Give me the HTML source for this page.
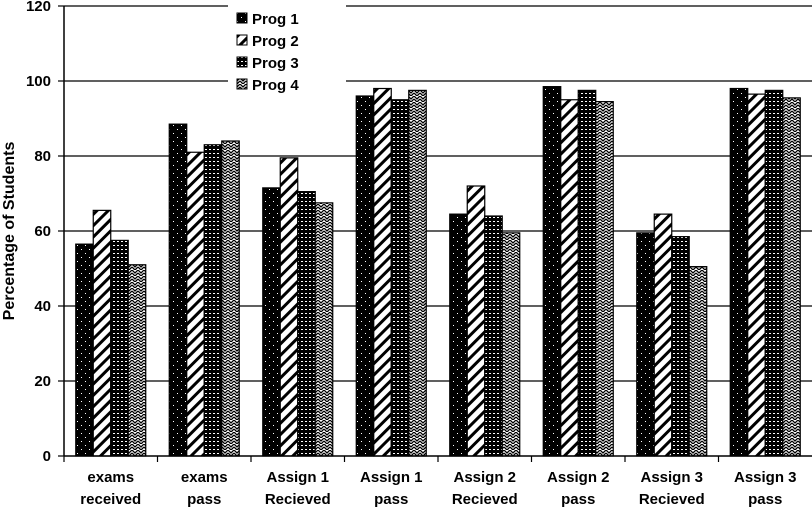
<!DOCTYPE html>
<html><head><meta charset="utf-8"><style>
body{margin:0;background:#fff}
svg{display:block;font-family:"Liberation Sans",Arial,sans-serif;font-weight:bold}
</style></head><body>
<svg id="chart" width="812" height="515" viewBox="0 0 812 515">
<defs>
<pattern id="p1" width="8" height="8" patternUnits="userSpaceOnUse"><rect width="8" height="8" fill="#000"/><rect x="1" y="1" width="1" height="1" fill="#fff"/><rect x="5" y="5" width="1" height="1" fill="#fff"/></pattern>
<pattern id="p2" width="8" height="8" patternUnits="userSpaceOnUse" patternTransform="rotate(45)"><rect width="8" height="8" fill="#fff"/><rect width="3" height="8" fill="#000"/></pattern>
<pattern id="p3" width="4" height="4" patternUnits="userSpaceOnUse"><rect width="4" height="4" fill="#000"/><rect x="1" y="1" width="2" height="1" fill="#fff"/></pattern>
<pattern id="p4" width="6" height="6" patternUnits="userSpaceOnUse"><rect width="6" height="6" fill="#fff"/><path d="M0 0L3 3L6 0M0 3L3 6L6 3" stroke="#000" stroke-width="1.3" fill="none"/></pattern>
</defs>
<g id="grid"></g><g id="bars"></g><g id="axes"></g>
<g>
<rect x="228" y="4" width="118" height="120" fill="#fff"/>
<g id="legend"></g>
</g>
<text transform="translate(14,231) rotate(-90)" text-anchor="middle" font-size="16">Percentage of Students</text>
</svg>
<script>
const categories=[["exams","received"],["exams","pass"],["Assign 1","Recieved"],["Assign 1","pass"],["Assign 2","Recieved"],["Assign 2","pass"],["Assign 3","Recieved"],["Assign 3","pass"]];
const seriesNames=["Prog 1","Prog 2","Prog 3","Prog 4"];
const prog1=[56.5,88.5,71.5,96,64.5,98.5,59.5,98];
const prog2=[65.5,81,79.5,98,72,95,64.5,96.5];
const prog3=[57.5,83,70.5,95,64,97.5,58.5,97.5];
const prog4=[51,84,67.5,97.5,59.5,94.5,50.5,95.5];
const yTicks=[0,20,40,60,80,100,120];
const series=[prog1,prog2,prog3,prog4];
const NS="http://www.w3.org/2000/svg";
const L=64,R=812,T=6,B=456,ymax=120;
const y=v=>B-(B-T)*v/ymax;
const cw=(R-L)/categories.length;
const bw=17.5;
const x=(i,s)=>L+cw*i+(cw-4*bw)/2+s*bw;
function mk(t,a,p){const e=document.createElementNS(NS,t);for(const k in a)e.setAttribute(k,a[k]);p.appendChild(e);return e;}
const grid=document.getElementById('grid'),bars=document.getElementById('bars'),axes=document.getElementById('axes'),leg=document.getElementById('legend');
yTicks.forEach(t=>{
 if(t>0){const g=mk('line',{x1:L,x2:R,y1:y(t),y2:y(t),stroke:'#000','stroke-width':1.2},grid);
 
 }
 mk('line',{x1:L-6,x2:L,y1:y(t),y2:y(t),stroke:'#000','stroke-width':1.2},axes);
 const tx=mk('text',{x:L-13,y:y(t)+5,'text-anchor':'end','font-size':15},axes);tx.textContent=t;
 
 
});
series.forEach((vals,s)=>vals.forEach((v,i)=>{
 const r=mk('rect',{x:x(i,s),y:y(v),width:bw,height:B-y(v),fill:'url(#p'+(s+1)+')',stroke:'#000','stroke-width':1.2},bars);
 
 
}));
mk('line',{x1:L,x2:L,y1:T,y2:B,stroke:'#000','stroke-width':1.5},axes);
mk('line',{x1:L,x2:R,y1:B,y2:B,stroke:'#000','stroke-width':1.5},axes);
categories.forEach((c,i)=>{
 mk('line',{x1:L+cw*i,x2:L+cw*i,y1:B,y2:B+6,stroke:'#000','stroke-width':1.2},axes);
 c.forEach((ln,j)=>{const t=mk('text',{x:L+cw*(i+0.5),y:482+j*22,'text-anchor':'middle','font-size':15},axes);t.textContent=ln;
 
 });
});
seriesNames.forEach((n,s)=>{
 const g=mk('g',{},leg);
 
 
 mk('rect',{x:237,y:13+s*22,width:10,height:10,fill:'url(#p'+(s+1)+')',stroke:'#000','stroke-width':1},g);
 const t=mk('text',{x:252,y:24+s*22,'font-size':15},g);t.textContent=n;
});
</script>
</body></html>
